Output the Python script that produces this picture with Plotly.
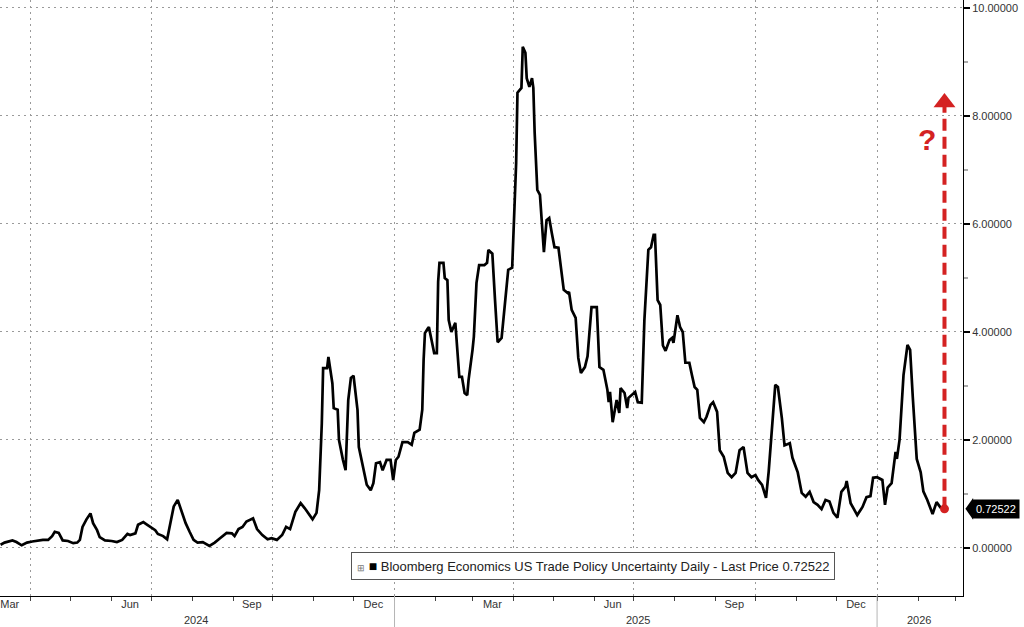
import plotly.graph_objects as go

# ---------------- data ----------------
dates = [
    # 2024
    "2024-03-09", "2024-03-12", "2024-03-18", "2024-03-21", "2024-03-25", "2024-03-29",
    "2024-04-02", "2024-04-06", "2024-04-10", "2024-04-14", "2024-04-17", "2024-04-19", "2024-04-22", "2024-04-25", "2024-04-29",
    "2024-05-03", "2024-05-06", "2024-05-08", "2024-05-10", "2024-05-13", "2024-05-16", "2024-05-18", "2024-05-21", "2024-05-23", "2024-05-27",
    "2024-06-01", "2024-06-05", "2024-06-09", "2024-06-13", "2024-06-15", "2024-06-19", "2024-06-21", "2024-06-25", "2024-06-28",
    "2024-07-02", "2024-07-04", "2024-07-06", "2024-07-10", "2024-07-13", "2024-07-16", "2024-07-18", "2024-07-21", "2024-07-24", "2024-07-27", "2024-07-30",
    "2024-08-02", "2024-08-05", "2024-08-09", "2024-08-14", "2024-08-18", "2024-08-22", "2024-08-27", "2024-08-31",
    "2024-09-02", "2024-09-05", "2024-09-08", "2024-09-11", "2024-09-16", "2024-09-19", "2024-09-23", "2024-09-27", "2024-09-30",
    "2024-10-04", "2024-10-08", "2024-10-11", "2024-10-14", "2024-10-18", "2024-10-22", "2024-10-25", "2024-10-28", "2024-10-31",
    "2024-11-03", "2024-11-05", "2024-11-07", "2024-11-08", "2024-11-11", "2024-11-12", "2024-11-15", "2024-11-16", "2024-11-19", "2024-11-20", "2024-11-23", "2024-11-25", "2024-11-27", "2024-11-29",
    "2024-12-01", "2024-12-04", "2024-12-05", "2024-12-07", "2024-12-10", "2024-12-11", "2024-12-14", "2024-12-16", "2024-12-18", "2024-12-21", "2024-12-23", "2024-12-26", "2024-12-29", "2024-12-31",
    # 2025
    "2025-01-02", "2025-01-04", "2025-01-07", "2025-01-11", "2025-01-14", "2025-01-16", "2025-01-20", "2025-01-22", "2025-01-23", "2025-01-24", "2025-01-26", "2025-01-27", "2025-01-29", "2025-01-31",
    "2025-02-02", "2025-02-03", "2025-02-04", "2025-02-07", "2025-02-08", "2025-02-10", "2025-02-11", "2025-02-13", "2025-02-16", "2025-02-17", "2025-02-19", "2025-02-21", "2025-02-23", "2025-02-25", "2025-02-26",
    "2025-03-01", "2025-03-02", "2025-03-04", "2025-03-06", "2025-03-10", "2025-03-12", "2025-03-13", "2025-03-16", "2025-03-18", "2025-03-20", "2025-03-23", "2025-03-26", "2025-03-28", "2025-03-31",
    "2025-04-01", "2025-04-03", "2025-04-04", "2025-04-07", "2025-04-08", "2025-04-10", "2025-04-11", "2025-04-13", "2025-04-15", "2025-04-16", "2025-04-17", "2025-04-19", "2025-04-21", "2025-04-23", "2025-04-24", "2025-04-26", "2025-04-28", "2025-04-30",
    "2025-05-02", "2025-05-05", "2025-05-07", "2025-05-09", "2025-05-12", "2025-05-13", "2025-05-15", "2025-05-18", "2025-05-20", "2025-05-22", "2025-05-25", "2025-05-27", "2025-05-30",
    "2025-06-03", "2025-06-05", "2025-06-08", "2025-06-11", "2025-06-12", "2025-06-13", "2025-06-15", "2025-06-18", "2025-06-20", "2025-06-21", "2025-06-24", "2025-06-26", "2025-06-27",
    "2025-07-02", "2025-07-04", "2025-07-07", "2025-07-09", "2025-07-12", "2025-07-14", "2025-07-16", "2025-07-17", "2025-07-19", "2025-07-21", "2025-07-23", "2025-07-25", "2025-07-28", "2025-07-30", "2025-07-31",
    "2025-08-03", "2025-08-05", "2025-08-07", "2025-08-09", "2025-08-12", "2025-08-14", "2025-08-16", "2025-08-18", "2025-08-20", "2025-08-23", "2025-08-25", "2025-08-28", "2025-08-30",
    "2025-09-02", "2025-09-04", "2025-09-07", "2025-09-10", "2025-09-13", "2025-09-16", "2025-09-19", "2025-09-22", "2025-09-25", "2025-09-28",
    "2025-10-01", "2025-10-03", "2025-10-06", "2025-10-09", "2025-10-11", "2025-10-14", "2025-10-16", "2025-10-18", "2025-10-21", "2025-10-23", "2025-10-27", "2025-10-29",
    "2025-11-02", "2025-11-05", "2025-11-08", "2025-11-11", "2025-11-14", "2025-11-17", "2025-11-20", "2025-11-23", "2025-11-26", "2025-11-29",
    "2025-12-02", "2025-12-05", "2025-12-08", "2025-12-09", "2025-12-12", "2025-12-17", "2025-12-21", "2025-12-24", "2025-12-27", "2025-12-29",
    # 2026
    "2026-01-01", "2026-01-05", "2026-01-07", "2026-01-09", "2026-01-12", "2026-01-15", "2026-01-16", "2026-01-18", "2026-01-21", "2026-01-24", "2026-01-26", "2026-01-28", "2026-01-31",
    "2026-02-03", "2026-02-05", "2026-02-08", "2026-02-10", "2026-02-12", "2026-02-15", "2026-02-18", "2026-02-21",
]

values = [
    # 2024
    0.06, 0.10, 0.14, 0.11, 0.05, 0.10,
    0.12, 0.14, 0.15, 0.15, 0.22, 0.30, 0.28, 0.14, 0.13,
    0.09, 0.10, 0.15, 0.39, 0.53, 0.64, 0.46, 0.33, 0.20, 0.14,
    0.13, 0.11, 0.15, 0.26, 0.24, 0.27, 0.43, 0.48, 0.43,
    0.36, 0.33, 0.26, 0.22, 0.16, 0.52, 0.77, 0.89, 0.67, 0.46, 0.30,
    0.15, 0.10, 0.11, 0.04, 0.10, 0.18, 0.28, 0.27,
    0.22, 0.35, 0.39, 0.49, 0.55, 0.35, 0.24, 0.16, 0.18,
    0.15, 0.24, 0.39, 0.35, 0.67, 0.83, 0.74, 0.64, 0.53,
    0.65, 1.07, 2.31, 3.33, 3.33, 3.54, 3.05, 2.59, 2.56, 2.00, 1.63, 1.44, 2.74, 3.15,
    3.19, 2.56, 1.87, 1.63, 1.31, 1.17, 1.07, 1.20, 1.57, 1.59, 1.44, 1.63, 1.63, 1.26,
    # 2025
    1.63, 1.69, 1.96, 1.96, 1.91, 2.13, 2.19, 2.56, 3.48, 3.98, 4.06, 4.09, 3.85, 3.61,
    3.61, 4.93, 5.28, 5.28, 5.00, 4.96, 4.22, 4.00, 4.17, 3.80, 3.17, 3.17, 2.87, 2.83, 3.11,
    3.67, 3.91, 4.91, 5.24, 5.24, 5.28, 5.52, 5.45, 4.60, 3.81, 3.89, 4.62, 5.15, 5.19,
    5.89, 7.13, 8.43, 8.52, 9.28, 9.17, 8.70, 8.54, 8.70, 8.52, 7.69, 6.63, 6.54, 5.76, 5.48, 6.07, 6.11, 5.83,
    5.57, 5.56, 5.20, 4.78, 4.72, 4.74, 4.41, 4.26, 3.52, 3.24, 3.35, 3.55, 4.46,
    4.46, 3.35, 3.30, 2.93, 2.70, 2.89, 2.33, 2.74, 2.50, 2.96, 2.87, 2.59, 2.78,
    2.89, 2.70, 2.69, 4.22, 5.52, 5.57, 5.80, 5.80, 4.59, 4.50, 3.75, 3.65, 3.85, 3.89, 3.80,
    4.31, 4.09, 4.00, 3.43, 3.43, 3.20, 2.98, 2.93, 2.41, 2.33, 2.43, 2.65, 2.70,
    2.52, 1.81, 1.69, 1.39, 1.31, 1.39, 1.81, 1.87, 1.39, 1.31,
    1.35, 1.26, 1.17, 0.93, 1.41, 2.37, 3.02, 2.98, 2.40, 1.90, 1.94, 1.67,
    1.40, 1.02, 0.95, 1.04, 0.85, 0.80, 0.72, 0.89, 0.86, 0.65,
    0.56, 1.04, 1.13, 1.24, 0.83, 0.61, 0.76, 0.94, 0.96, 1.30,
    # 2026
    1.31, 1.26, 0.80, 1.12, 1.20, 1.78, 1.65, 2.00, 3.20, 3.76, 3.67, 2.80, 1.65,
    1.40, 1.05, 0.89, 0.76, 0.63, 0.85, 0.75, 0.72522,
]
assert len(dates) == len(values)

series_name = "Bloomberg Economics US Trade Policy Uncertainty Daily - Last Price"
last_price = 0.72522
last_date = dates[-1]

x_range = ["2024-03-08 14:00", "2026-03-07"]
y_range = [-0.889, 10.148]

y_tick_vals = [0, 2, 4, 6, 8, 10]
y_tick_text = ["0.00000", "2.00000", "4.00000", "6.00000", "8.00000", "10.00000"]

grid_dates = ["2024-04-01", "2024-07-01", "2024-10-01", "2025-01-01",
              "2025-04-01", "2025-07-01", "2025-10-01", "2026-01-01"]
month_label_dates = ["2024-03-16", "2024-06-15", "2024-09-15", "2024-12-16",
                     "2025-03-16", "2025-06-15", "2025-09-15", "2025-12-16"]
month_labels = ["Mar", "Jun", "Sep", "Dec", "Mar", "Jun", "Sep", "Dec"]
year_label_dates = ["2024-08-04", "2025-07-04", "2026-02-02"]
year_labels = ["2024", "2025", "2026"]
year_breaks = ["2025-01-01", "2026-01-01"]

arrow_top = 8.25          # target level of the red dashed arrow
question_date = "2026-02-08"
question_y = 7.56

RED = "#d42222"
GRID = "#9a9a9a"

# ---------------- figure ----------------
fig = go.Figure()

fig.add_trace(go.Scatter(
    x=dates, y=values, mode="lines",
    line=dict(color="black", width=2.7),
    name=series_name, showlegend=False, hoverinfo="skip",
))

# red dashed arrow line
fig.add_shape(type="line", xref="x", yref="y",
              x0=last_date, x1=last_date, y0=last_price, y1=arrow_top,
              line=dict(color=RED, width=4, dash="12px,6px"))
# arrow head
fig.add_trace(go.Scatter(
    x=[last_date], y=[arrow_top], mode="markers",
    marker=dict(symbol="triangle-up", size=19, color=RED, line=dict(width=0)),
    showlegend=False, hoverinfo="skip"))
# end dot
fig.add_trace(go.Scatter(
    x=[last_date], y=[last_price], mode="markers",
    marker=dict(symbol="circle", size=9, color=RED, line=dict(width=0)),
    showlegend=False, hoverinfo="skip"))

# axis-label x axis (second, overlaying)
fig.add_trace(go.Scatter(x=[dates[0]], y=[None], xaxis="x2", showlegend=False, hoverinfo="skip"))

fig.update_layout(
    width=1024, height=627,
    margin=dict(l=0, r=61, t=0, b=31),
    paper_bgcolor="white", plot_bgcolor="white",
    font=dict(family="Liberation Sans, Arial, sans-serif", color="#333"),
    xaxis=dict(
        type="date", range=x_range,
        tickmode="array", tickvals=grid_dates, showticklabels=False,
        ticks="", showgrid=True, gridcolor=GRID, griddash="2px,4px", gridwidth=1,
        showline=True, linecolor="black", linewidth=1,
        minor=dict(ticks="outside", ticklen=4, tickcolor="#444", dtick="M1",
                   tick0="2024-01-01", showgrid=False),
        zeroline=False,
    ),
    xaxis2=dict(
        type="date", overlaying="x", matches="x", anchor="y", side="bottom",
        tickmode="array", tickvals=month_label_dates, ticktext=month_labels,
        ticks="", showgrid=False, showline=False, zeroline=False,
        tickfont=dict(family="Liberation Sans Narrow, Liberation Sans, Arial", size=11, color="#333"),
    ),
    yaxis=dict(
        side="right", range=y_range,
        tickmode="array", tickvals=y_tick_vals, ticktext=y_tick_text,
        ticks="outside", ticklen=6, tickwidth=2, tickcolor="black",
        showgrid=True, gridcolor=GRID, griddash="2px,4px", gridwidth=1,
        showline=True, linecolor="black", linewidth=1, zeroline=False,
        tickfont=dict(family="Liberation Sans, Arial", size=11, color="#333"),
        minor=dict(ticks="outside", ticklen=4, tickcolor="#aaa", dtick=1, tick0=1, showgrid=False),
    ),
)

# year labels
for d, t in zip(year_label_dates, year_labels):
    fig.add_annotation(x=d, xref="x", y=-0.041, yref="paper", text=t, showarrow=False,
                       yanchor="middle",
                       font=dict(family="Liberation Sans Narrow, Liberation Sans, Arial", size=11, color="#333"))
# year separators
for d in year_breaks:
    fig.add_shape(type="line", xref="x", yref="paper", x0=d, x1=d, y0=0, y1=-0.06,
                  line=dict(color="#b5b5b5", width=1))

# legend box
fig.add_annotation(
    x=0.616, xref="paper", y=-0.333, yref="y",
    text=('<span style="font-size:9px;color:#777">⊞</span> '
          '<span style="font-size:14px;color:black">■</span> '
          f'{series_name} {last_price:.5f}'),
    showarrow=False, xanchor="center", yanchor="middle",
    font=dict(family="Liberation Sans, Arial", size=13, color="#222"),
    bgcolor="white", bordercolor="#555", borderwidth=1, borderpad=5,
)

# last price tag
fig.add_annotation(
    x=1.0, xref="paper", y=last_price, yref="y", xshift=9,
    text=f"{last_price:.5f}", showarrow=False, xanchor="left", yanchor="middle",
    font=dict(family="Liberation Sans, Arial", size=11, color="white"),
    bgcolor="black", borderpad=3,
)
fig.add_shape(type="path", xref="paper", yref="y",
              path=f"M 1.0025,{last_price} L 1.0105,{last_price + 0.2} L 1.0105,{last_price - 0.2} Z",
              fillcolor="black", line=dict(width=0))

# question mark
fig.add_annotation(x=question_date, xref="x", y=question_y, yref="y", text="<b>?</b>",
                   showarrow=False, font=dict(family="Liberation Sans, Arial", size=30, color=RED))

fig.write_html("out.html", config={"displayModeBar": False},
               post_script="document.body.style.margin='0';")
